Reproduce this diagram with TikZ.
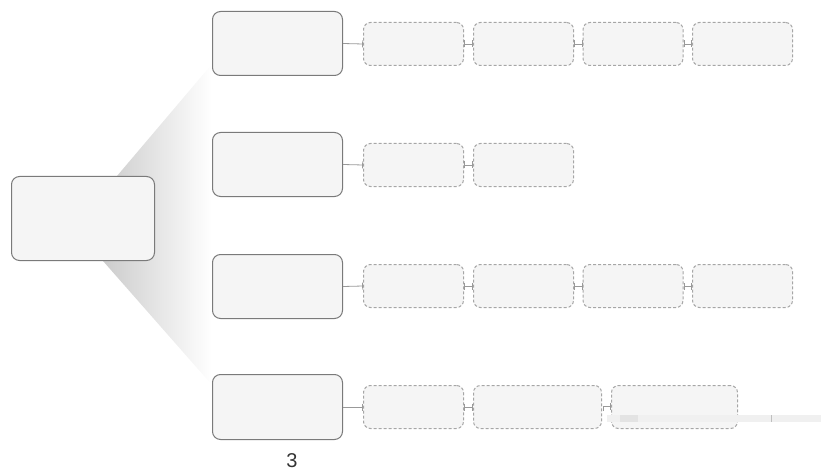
\documentclass[tikz,border=0pt]{standalone}
\usepackage{fontspec}
\setmainfont{Liberation Sans}
\usetikzlibrary{arrows.meta}
\definecolor{boxfill}{HTML}{F5F5F5}
\definecolor{boxline}{HTML}{7A7A7A}
\definecolor{dashline}{HTML}{A6A6A6}
\definecolor{conline}{HTML}{999999}
\begin{document}
\begin{tikzpicture}[x=1pt,y=-1pt,
  mainbox/.style={draw=boxline,fill=boxfill,line width=1pt,rounded corners=8pt,inner sep=0pt},
  dashbox/.style={draw=dashline,fill=boxfill,line width=1pt,dash pattern=on 3pt off 2pt,rounded corners=7pt,inner sep=0pt,minimum width=100pt,minimum height=43pt},
  link/.style={draw=conline,line width=0.8pt},
  tick/.tip={Bar[width=7pt,line width=0.8pt]},
  firstlink/.style={link,-tick},
  midlink/.style={link,tick-tick}
]
\useasboundingbox (0,0) rectangle (821,473);
% shadow fan
\shade[left color=black!20,middle color=black!32,right color=white] (117,176) -- (212,64) -- (212,385) -- (103,261) -- cycle;
% central box
\node[mainbox,minimum width=143pt,minimum height=84pt] (c) at (83,218.5) {};
% level-1 boxes
\node[mainbox,minimum width=130pt,minimum height=64pt] (b1) at (277.5,43.5) {};
\node[mainbox,minimum width=130pt,minimum height=64pt] (b2) at (277.5,164.5) {};
\node[mainbox,minimum width=130pt,minimum height=64pt] (b3) at (277.5,286.5) {};
\node[mainbox,minimum width=130pt,minimum height=65pt] (b4) at (277.5,407) {};
% row 1
\node[dashbox] (d11) at (413.5,44) {};
\node[dashbox] (d12) at (523.5,44) {};
\node[dashbox] (d13) at (633,44) {};
\node[dashbox] (d14) at (742.5,44) {};
% row 2
\node[dashbox] (d21) at (413.5,165) {};
\node[dashbox] (d22) at (523.5,165) {};
% row 3
\node[dashbox] (d31) at (413.5,286) {};
\node[dashbox] (d32) at (523.5,286) {};
\node[dashbox] (d33) at (633,286) {};
\node[dashbox] (d34) at (742.5,286) {};
% row 4
\node[dashbox] (d41) at (413.5,407) {};
\node[dashbox,minimum width=128pt] (d42) at (537.5,407) {};
\node[dashbox,minimum width=126pt] (d43) at (674.5,407) {};
% connectors
\draw[firstlink] (b1.east) -- (d11.west);
\draw[midlink] (d11.east) -- (d12.west);
\draw[midlink] (d12.east) -- (d13.west);
\draw[midlink] (d13.east) -- (d14.west);
\draw[firstlink] (b2.east) -- (d21.west);
\draw[midlink] (d21.east) -- (d22.west);
\draw[firstlink] (b3.east) -- (d31.west);
\draw[midlink] (d31.east) -- (d32.west);
\draw[midlink] (d32.east) -- (d33.west);
\draw[midlink] (d33.east) -- (d34.west);
\draw[firstlink] (b4.east) -- (d41.west);
\draw[midlink] (d41.east) -- (d42.west);
\draw[link,-tick] ([xshift=1pt,yshift=-4pt]d42.east) |- ([yshift=1pt]d43.west);
% stray bar
\fill[black!6] (607,415) rectangle (821,422);
\fill[black!11] (620,415) rectangle (638,422);
\draw[black!25,line width=0.6pt] (771,415) -- (771,422);
% label
\node[font=\fontsize{20}{24}\selectfont,text=black!80,inner sep=0pt] (lbl) at (292,461) {3};
\end{tikzpicture}
\end{document}
